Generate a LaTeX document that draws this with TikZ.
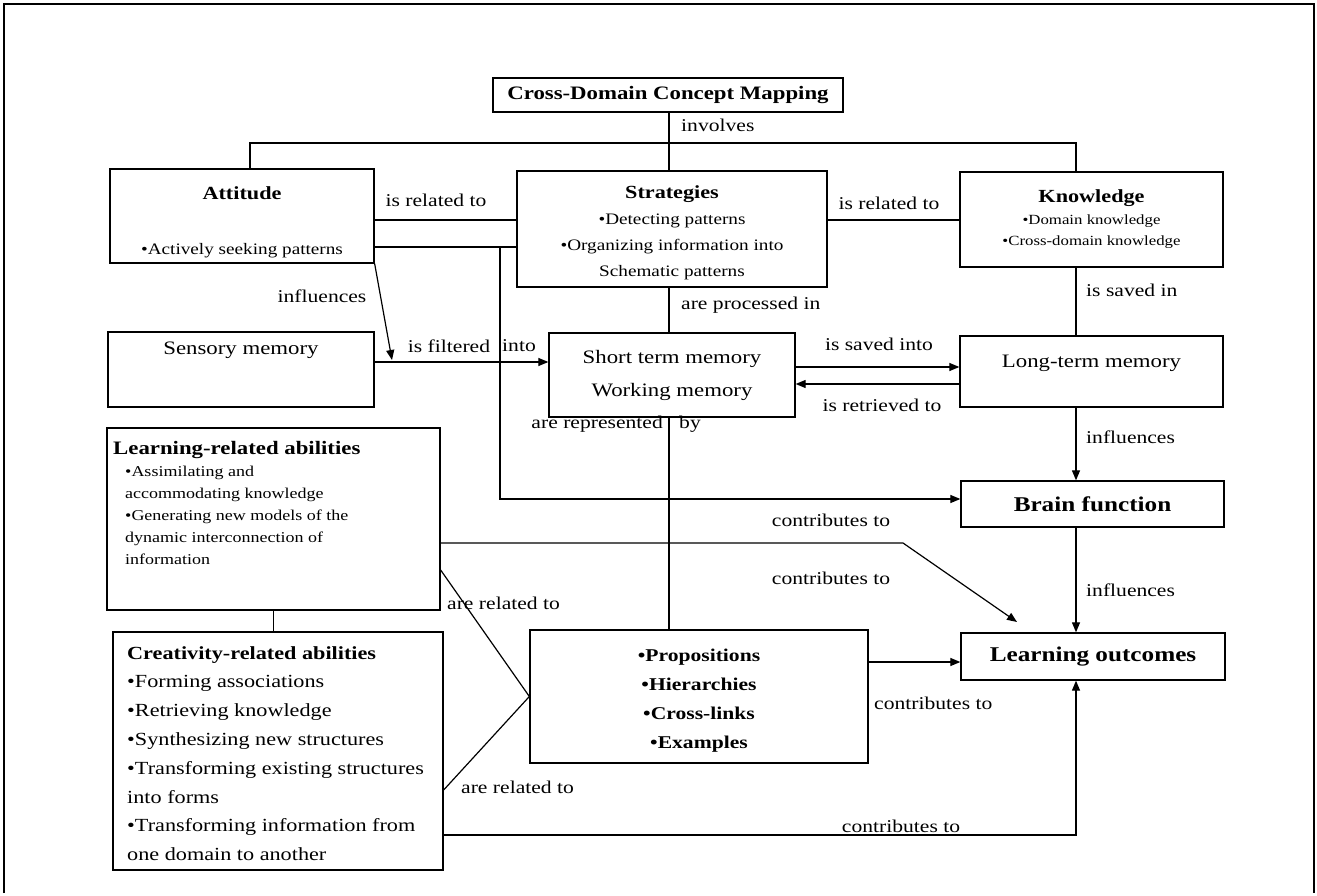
\documentclass[tikz,border=0pt]{standalone}
\usepackage{fontspec}
\setmainfont{Liberation Serif}[FakeStretch=1.2]
\usetikzlibrary{arrows.meta,calc}
\newcommand\fsz[2]{\fontsize{#1}{#2}\selectfont}
\begin{document}
\begin{tikzpicture}[x=1pt,y=-1pt,
 box/.style={draw, line width=1.3pt, inner sep=2pt},
 conn/.style={line width=1.2pt},
 arr/.style={conn,-{Triangle[length=10pt,width=8pt]}},
 lbl/.style={font=\fsz{18}{20}, inner sep=1pt},
]
\useasboundingbox (0,0) rectangle (1317,896);
\draw[line width=1.2pt] (4,893) -- (4,4) -- (1314,4) -- (1314,893);

% boxes
\node[box, minimum width=350pt, minimum height=34pt, font=\bfseries\fsz{19}{22}] (title) at (668,95) {Cross-Domain Concept Mapping};
\node[box, minimum width=264pt, minimum height=94pt, align=center, font=\fsz{16}{20}] (att) at (242,216) {\rule{0pt}{25pt}{\bfseries\fsz{18.5}{20}Attitude}\\[35pt]•Actively seeking patterns};
\node[box, minimum width=310pt, minimum height=116pt, align=center, font=\fsz{16}{26}] (strat) at (672,229) {\rule{0pt}{20pt}{\bfseries\fsz{18.5}{26}Strategies}\\•Detecting patterns\\•Organizing information into\\Schematic patterns};
\node[box, minimum width=263pt, minimum height=95pt, align=center, font=\fsz{14}{21.5}] (know) at (1091.5,219.5) {{\bfseries\fsz{18.5}{21.5}Knowledge}\\•Domain knowledge\\•Cross-domain knowledge};
\node[box, minimum width=266pt, minimum height=75pt, font=\fsz{19}{22}, text depth=42pt] (sens) at (241,369.5) {Sensory memory};
\node[box, minimum width=246pt, minimum height=84pt, align=center, font=\fsz{19}{33}] (stm) at (672,375) {Short term memory\\Working memory};
\node[box, minimum width=263pt, minimum height=71pt, font=\fsz{19}{22}, text depth=20pt] (ltm) at (1091.5,371.5) {Long-term memory};
\node[box, minimum width=263pt, minimum height=46pt, font=\bfseries\fsz{21}{24}] (brain) at (1092.5,504) {Brain function};
\node[box, minimum width=264pt, minimum height=47pt, font=\bfseries\fsz{21}{24}] (lo) at (1093,656.5) {Learning outcomes};
\node[box, minimum width=333pt, minimum height=182pt] (learn) at (273.5,519) {};
\node[anchor=north west, inner sep=0pt, align=left, font=\fsz{15}{22}] (learntxt) at (113,441) {{\bfseries\fsz{19}{22}Learning-related abilities}\\\hspace*{12pt}•Assimilating and\\\hspace*{12pt}accommodating knowledge\\\hspace*{12pt}•Generating new models of the\\\hspace*{12pt}dynamic interconnection of\\\hspace*{12pt}information};
\node[box, minimum width=330pt, minimum height=238pt] (creat) at (278,751) {};
\node[anchor=north west, inner sep=0pt, align=left, font=\fsz{18.5}{28.8}] (creattxt) at (127,646) {{\bfseries Creativity-related abilities}\\•Forming associations\\•Retrieving knowledge\\•Synthesizing new structures\\•Transforming existing structures\\into forms\\•Transforming information from\\one domain to another};
\node[box, minimum width=338pt, minimum height=133pt, align=center, font=\bfseries\fsz{18}{29}] (props) at (699,696.5) {\rule{0pt}{21pt}•Propositions\\•Hierarchies\\•Cross-links\\•Examples};

% helper coordinates
\coordinate (cx) at (669,0);
\coordinate (kx) at (1076,0);
\coordinate (ja) at (250,143);
\coordinate (jk) at (1076,143);
\coordinate (r1) at (0,220);
\coordinate (r2) at (0,247);
\coordinate (jv) at (500,247);
\coordinate (jb) at (500,499);
\coordinate (f) at (0,362);
\coordinate (infl) at (392,360);
\coordinate (s1) at (0,367);
\coordinate (s2) at (0,384);
\coordinate (c1) at (0,543);
\coordinate (cb) at (903,543);
\coordinate (ctip) at (1017,622);
\coordinate (ra) at (0,570);
\coordinate (rb) at (0,790);
\coordinate (p1) at (0,662);
\coordinate (q1) at (0,835);

% connectors
\draw[conn] (title.south -| cx) -- (strat.north -| cx);
\draw[conn] (att.north -| ja) -- (ja) -- (jk) -- (know.north -| jk);
\draw[conn] (att.east |- r1) -- (strat.west |- r1);
\draw[conn] (att.east |- r2) -- (strat.west |- r2);
\draw[arr] (jv) -- (jb) -- (brain.west |- jb);
\draw[conn] (strat.east |- r1) -- (know.west |- r1);
\draw[conn] (strat.south -| cx) -- (stm.north -| cx);
\draw[arr] (sens.east |- f) -- (stm.west |- f);
\draw[arr] (att.south east) -- (infl);
\draw[arr] (stm.east |- s1) -- (ltm.west |- s1);
\draw[arr] (ltm.west |- s2) -- (stm.east |- s2);
\draw[conn] (know.south -| kx) -- (ltm.north -| kx);
\draw[arr] (ltm.south -| kx) -- (brain.north -| kx);
\draw[arr] (brain.south -| kx) -- (lo.north -| kx);
\draw[conn] (stm.south -| cx) -- (props.north -| cx);
\draw[arr] (learn.east |- c1) -- (cb) -- (ctip);
\draw[conn] (learn.east |- ra) -- (props.west);
\draw[conn] (creat.east |- rb) -- (props.west);
\draw[arr] (props.east |- p1) -- (lo.west |- p1);
\draw[arr] (creat.east |- q1) -- (kx |- q1) -- (lo.south -| kx);
\draw[conn] (learn.south) -- (learn.south |- creat.north);

% labels
\node[lbl, anchor=west] (linv) at (680,125) {involves};
\node[lbl] (lrel1) at (436,200) {is related to};
\node[lbl] (lrel2) at (889,203) {is related to};
\node[lbl, anchor=west] (lproc) at (680,305) {are processed in};
\node[lbl] (linf1) at (322,296) {influences};
\node[lbl] (lfilt) at (449,346) {is filtered};
\node[lbl] (linto) at (519,346) {into};
\node[lbl] (lsave) at (879,344) {is saved into};
\node[lbl] (lretr) at (882,405) {is retrieved to};
\node[lbl, anchor=west] (lsavein) at (1085,290) {is saved in};
\node[lbl, anchor=west] (linf2) at (1085,437) {influences};
\node[lbl, anchor=west] (linf3) at (1085,590) {influences};
\node[lbl, anchor=east] (lrep) at (664,424) {are represented};
\node[lbl, anchor=west] (lby) at (678,424) {by};
\node[lbl] (lcon1) at (831,520) {contributes to};
\node[lbl] (lcon2) at (831,578) {contributes to};
\node[lbl, anchor=west] (lare1) at (446,603) {are related to};
\node[lbl, anchor=west] (lare2) at (460,787) {are related to};
\node[lbl, anchor=west] (lcon3) at (873,703) {contributes to};
\node[lbl] (lcon4) at (901,826) {contributes to};
\end{tikzpicture}
\end{document}
